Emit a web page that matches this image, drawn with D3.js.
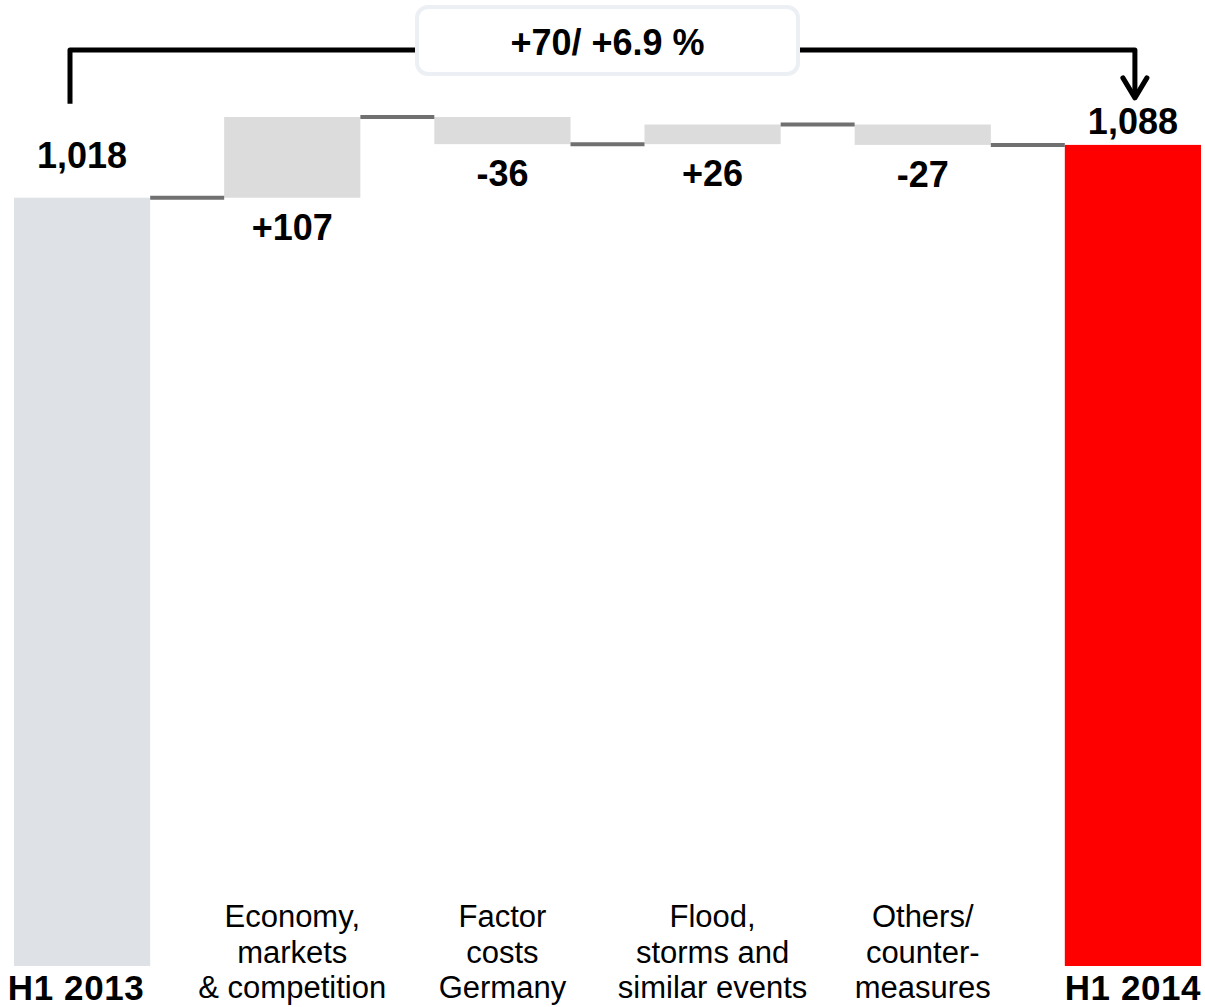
<!DOCTYPE html>
<html>
<head>
<meta charset="utf-8">
<script src="https://cdn.jsdelivr.net/npm/d3@7"></script>
<style>
  html, body { margin: 0; padding: 0; background: #fff; }
  svg { display: block; }
</style>
</head>
<body>
<svg id="chart" width="1205" height="1007"></svg>
<script>
// ---- data ----
const categories = ["H1 2013", "Economy", "Factor", "Flood", "Others", "H1 2014"];
const categoryLines = [
  ["H1 2013"],
  ["Economy,", "markets", "& competition"],
  ["Factor", "costs", "Germany"],
  ["Flood,", "storms and", "similar events"],
  ["Others/", "counter-", "measures"],
  ["H1 2014"]
];
const values = [1018, 107, -36, 26, -27, 1088];
const kinds = ["total", "delta", "delta", "delta", "delta", "total"];
const valueLabels = ["1,018", "+107", "-36", "+26", "-27", "1,088"];
const changeLabel = "+70/ +6.9 %";

// ---- layout ----
const svg = d3.select("#chart");
const x = d3.scaleBand().domain(categories).range([14, 1201]).paddingInner(0.352).paddingOuter(0);
const y = d3.scaleLinear().domain([0, 1280]).range([966, 0]);
const bw = x.bandwidth();

// compute waterfall segments
let running = 0;
const bars = values.map((v, i) => {
  let start, end;
  if (kinds[i] === "total") { start = 0; end = v; running = v; }
  else { start = running; end = running + v; running = end; }
  return { cat: categories[i], start, end, kind: kinds[i], i, label: valueLabels[i] };
});

const fillFor = d => d.kind === "delta" ? "#dcdcdc" : (d.i === 0 ? "#dee1e5" : "#ff0000");

svg.append("g").selectAll("rect").data(bars).join("rect")
  .attr("x", d => x(d.cat))
  .attr("width", bw)
  .attr("y", d => y(Math.max(d.start, d.end)))
  .attr("height", d => Math.abs(y(d.start) - y(d.end)))
  .attr("fill", fillFor);

// connectors
svg.append("g").selectAll("line").data(bars.slice(0, -1)).join("line")
  .attr("x1", d => x(d.cat) + bw)
  .attr("x2", d => x(categories[d.i + 1]))
  .attr("y1", d => y(d.end))
  .attr("y2", d => y(d.end))
  .attr("stroke", "#707070")
  .attr("stroke-width", 4);

// value labels
svg.append("g").selectAll("text").data(bars).join("text")
  .attr("x", d => x(d.cat) + bw / 2)
  .attr("y", d => {
    if (d.kind === "delta") return y(Math.min(d.start, d.end)) + 42;
    return y(d.end) - (d.i === 0 ? 30 : 11);
  })
  .attr("text-anchor", "middle")
  .attr("font-family", "Liberation Sans, Arial, sans-serif")
  .attr("font-weight", "bold")
  .attr("font-size", 36)
  .attr("fill", "#000")
  .text(d => d.label);

// category labels
const catG = svg.append("g");
categoryLines.forEach((lines, i) => {
  const cx = x(categories[i]) + bw / 2;
  if (kinds[i] === "total") {
    catG.append("text")
      .attr("x", i === 0 ? cx - 6 : cx).attr("y", 1000)
      .attr("text-anchor", "middle")
      .attr("font-family", "Liberation Sans, Arial, sans-serif")
      .attr("font-weight", "bold")
      .attr("font-size", 35)
      .attr("letter-spacing", 0.6)
      .attr("fill", "#000")
      .text(lines[0]);
  } else {
    const t = catG.append("text")
      .attr("text-anchor", "middle")
      .attr("font-family", "Liberation Sans, Arial, sans-serif")
      .attr("font-size", 31)
      .attr("fill", "#000");
    lines.forEach((ln, k) => {
      t.append("tspan").attr("x", cx).attr("y", 927 + k * 35.5).text(ln);
    });
  }
});

// bracket with change label
const xl = x(categories[0]) + 56;
const xr = x(categories[categories.length - 1]) + bw / 2 + 2;
const yTop = 50;
const boxL = 415, boxR = 800;
const br = svg.append("g").attr("fill", "none").attr("stroke", "#000").attr("stroke-width", 5);
br.append("path").attr("d", `M${xl},${y(values[0]) - 94} V${yTop} H${boxL}`).attr("stroke-linejoin", "round");
br.append("path").attr("d", `M${boxR},${yTop} H${xr} V${y(values[5]) - 47}`).attr("stroke-linejoin", "round");
br.append("path").attr("d", `M${xr - 12},${y(values[5]) - 67} L${xr},${y(values[5]) - 47} L${xr + 12},${y(values[5]) - 67}`)
  .attr("stroke-linejoin", "round").attr("stroke-linecap", "round");

svg.append("rect")
  .attr("x", boxL + 2).attr("y", 7)
  .attr("width", boxR - boxL - 4).attr("height", 67)
  .attr("rx", 11)
  .attr("fill", "#fff")
  .attr("stroke", "#eceff4")
  .attr("stroke-width", 4);
svg.append("text")
  .attr("x", (boxL + boxR) / 2).attr("y", 55)
  .attr("text-anchor", "middle")
  .attr("font-family", "Liberation Sans, Arial, sans-serif")
  .attr("font-weight", "bold")
  .attr("font-size", 36)
  .attr("fill", "#000")
  .text(changeLabel);
</script>
</body>
</html>
